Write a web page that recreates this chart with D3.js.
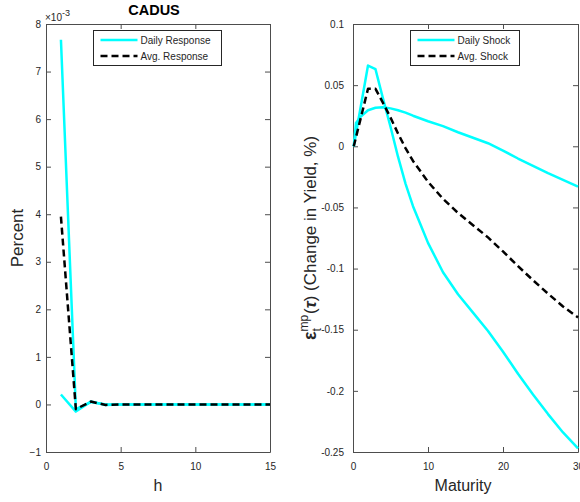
<!DOCTYPE html>
<html><head><meta charset="utf-8">
<script src="https://cdn.jsdelivr.net/npm/d3@7"></script>
<style>
body{margin:0;background:#fff}
svg{display:block}
text{font-family:"Liberation Sans",Arial,Helvetica,sans-serif}
</style>
</head><body>
<svg id="c" width="580" height="502"></svg>
<script>
// ---------- Left panel data (values in units of 1e-3 percent) ----------
const horizon = [1,2,3,4,5,6,7,8,9,10,11,12,13,14,15];
const dailyResponse1 = [7.67,-0.10,0.05,0.00,0,0,0,0,0,0,0,0,0,0,0];
const dailyResponse2 = [0.21,-0.15,0.06,-0.01,0,0,0,0,0,0,0,0,0,0,0];
const avgResponse    = [3.95,-0.10,0.06,-0.01,0,0,0,0,0,0,0,0,0,0,0];
const leftXTicks = [0,5,10,15];
const leftYTicks = [-1,0,1,2,3,4,5,6,7,8];

// ---------- Right panel data ----------
const maturityA   = [0.1,2,3,4,5,6,7,8,9,10,12,14,16,18,20,22,24,26,28,30];
const dailyShockA = [0,0.066,0.063,0.039,0.016,-0.0085,-0.0305,-0.049,-0.064,-0.079,-0.103,-0.121,-0.136,-0.151,-0.168,-0.186,-0.203,-0.219,-0.234,-0.247];
const maturityB   = [0.1,0.4,1,2,3,4,5,6,7,8,10,12,14,16,18,20,22,24,26,28,30];
const dailyShockB = [0,0.019,0.024,0.0295,0.0315,0.032,0.031,0.0295,0.0275,0.025,0.0205,0.0165,0.0115,0.007,0.0025,-0.0035,-0.010,-0.016,-0.022,-0.0275,-0.033];
const maturityAvg = [0.1,2,3,4,5,6,7,8,9,10,12,14,16,18,20,22,24,26,28,30];
const avgShock    = [0,0.047,0.047,0.0355,0.0235,0.0105,-0.0015,-0.012,-0.0205,-0.029,-0.043,-0.0545,-0.0645,-0.0745,-0.086,-0.098,-0.1095,-0.1205,-0.131,-0.140];
const rightXTicks = [0,10,20,30];
const rightYTicks = [0.1,0.05,0,-0.05,-0.1,-0.15,-0.2,-0.25];
const rightYTickLabels = ["0.1","0.05","0","-0.05","-0.1","-0.15","-0.2","-0.25"];

const CYAN = "#00ffff";
const AXC = "#4d4d4d";
const TXT = "#262626";
const svg = d3.select("#c");

function drawAxes(x, y, xTicks, yTicks, yFmt, yPad) {
  const g = svg.append("g");
  const [x0, x1] = x.range();
  const [y0, y1] = y.range();
  const style = sel => {
    sel.select(".domain").attr("stroke", AXC).attr("stroke-width", 1);
    sel.selectAll(".tick line").attr("stroke", AXC);
    sel.selectAll(".tick text").attr("fill", TXT).attr("font-size", 10)
      .attr("font-family", '"Liberation Sans",Arial,sans-serif');
  };
  g.append("g").attr("transform", `translate(0,${y0})`)
    .call(d3.axisBottom(x).tickValues(xTicks).tickSize(-5).tickSizeOuter(0).tickPadding(11).tickFormat(d3.format("d")))
    .call(style);
  g.append("g").attr("transform", `translate(0,${y1})`)
    .call(d3.axisTop(x).tickValues(xTicks).tickSize(-5).tickSizeOuter(0).tickFormat(""))
    .call(style);
  g.append("g").attr("transform", `translate(${x0},0)`)
    .call(d3.axisLeft(y).tickValues(yTicks).tickSize(-5).tickSizeOuter(0).tickPadding(yPad).tickFormat(yFmt))
    .call(style);
  g.append("g").attr("transform", `translate(${x1},0)`)
    .call(d3.axisRight(y).tickValues(yTicks).tickSize(-5).tickSizeOuter(0).tickFormat(""))
    .call(style);
  return g;
}

function drawLine(xs, ys, x, y, color, dashed) {
  const line = d3.line().x((d, i) => x(xs[i])).y(d => y(d));
  svg.append("path").datum(ys)
    .attr("d", line)
    .attr("fill", "none")
    .attr("stroke", color)
    .attr("stroke-width", 2.5)
    .attr("stroke-linejoin", "round")
    .attr("stroke-dasharray", dashed ? "7,4" : null);
}

function legend(x0, y0, w, h, labels) {
  const g = svg.append("g");
  g.append("rect").attr("x", x0).attr("y", y0).attr("width", w).attr("height", h)
    .attr("fill", "#fff").attr("stroke", "#262626").attr("stroke-width", 1);
  labels.forEach((lab, i) => {
    const ly = y0 + 9.5 + i * 16;
    g.append("line").attr("x1", x0 + 7).attr("x2", x0 + 44).attr("y1", ly).attr("y2", ly)
      .attr("stroke", i === 0 ? CYAN : "#000").attr("stroke-width", 2.5)
      .attr("stroke-dasharray", i === 0 ? null : "7,4");
    g.append("text").attr("x", x0 + 47).attr("y", ly + 4).attr("font-size", 10)
      .attr("fill", TXT).text(lab);
  });
}

// ---------- Left panel ----------
const xL = d3.scaleLinear().domain([0, 15]).range([46, 270]);
const yL = d3.scaleLinear().domain([-1, 8]).range([452, 24]);
drawAxes(xL, yL, leftXTicks, leftYTicks, d3.format("d"), 5);
drawLine(horizon, dailyResponse1, xL, yL, CYAN, false);
drawLine(horizon, dailyResponse2, xL, yL, CYAN, false);
drawLine(horizon, avgResponse, xL, yL, "#000", true);
legend(93.5, 30.5, 128, 35, ["Daily Response", "Avg. Response"]);

// exponent label
const ex = svg.append("text").attr("x", 45).attr("y", 20.5).attr("font-size", 10).attr("fill", TXT);
ex.append("tspan").text("\u00d710");
ex.append("tspan").attr("dy", -5).attr("font-size", 9).text("-3");

// title
svg.append("text").attr("x", 154).attr("y", 15).attr("text-anchor", "middle")
  .attr("font-size", 14.5).attr("font-weight", "bold").attr("fill", "#000").text("CADUS");

svg.append("text").attr("x", 158).attr("y", 491).attr("text-anchor", "middle")
  .attr("font-size", 16).attr("fill", TXT).text("h");
svg.append("text").attr("transform", "translate(23,238) rotate(-90)").attr("text-anchor", "middle")
  .attr("font-size", 17).attr("fill", TXT).text("Percent");

// ---------- Right panel ----------
const xR = d3.scaleLinear().domain([0, 30]).range([353, 578]);
const yR = d3.scaleLinear().domain([-0.25, 0.1]).range([452, 24]);
drawAxes(xR, yR, rightXTicks, rightYTicks, (d, i) => rightYTickLabels[i], 9);
drawLine(maturityA, dailyShockA, xR, yR, CYAN, false);
drawLine(maturityB, dailyShockB, xR, yR, CYAN, false);
drawLine(maturityAvg, avgShock, xR, yR, "#000", true);
legend(410.5, 30.5, 109, 35, ["Daily Shock", "Avg. Shock"]);

svg.append("text").attr("x", 463).attr("y", 491).attr("text-anchor", "middle")
  .attr("font-size", 16).attr("fill", TXT).text("Maturity");

// right y label with sub/superscripts, rotated
(function () {
  const g = svg.append("g").attr("transform", "translate(316,238) rotate(-90)");
  const fs = 17;
  const parts = [];
  let cx = 0;
  const add = (txt, size, dy, opts = {}) => {
    const t = g.append("text").attr("x", cx).attr("y", dy).attr("font-size", size)
      .attr("fill", TXT).text(txt);
    if (opts.bold) t.attr("font-weight", "bold");
    if (opts.italic) t.attr("font-style", "italic");
    if (opts.family) t.attr("font-family", opts.family);
    parts.push(t);
    return t.node().getComputedTextLength();
  };
  cx += add("\u03b5", fs + 1, 0, {bold: true});
  const supStart = cx;
  const wSup = add("mp", 12, -8);
  cx = supStart;
  const wSub = add("t", 12, 5);
  cx = supStart + Math.max(wSup, wSub) + 1;
  cx += add("(", fs, 0);
  cx += add("\u03c4", fs, 0, {bold: true, italic: true});
  cx += add(") (Change in Yield, %)", fs, 0);
  const shift = -cx / 2;
  parts.forEach(p => p.attr("x", +p.attr("x") + shift));
})();
</script>
</body></html>
